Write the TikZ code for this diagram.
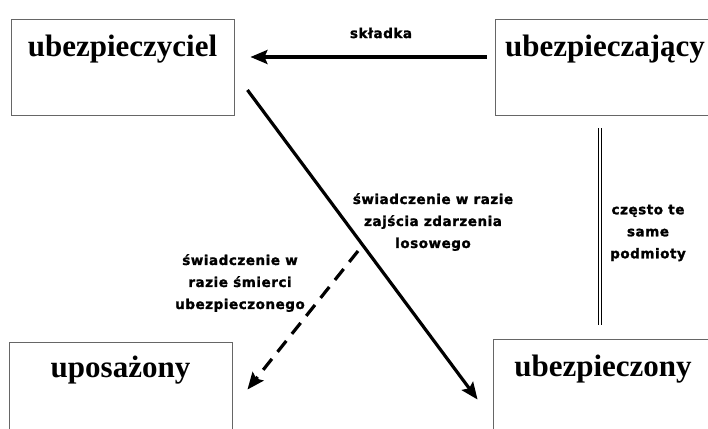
\documentclass[tikz,border=0pt]{standalone}
\usepackage{fontspec}
\setmainfont{Liberation Serif}
\newfontfamily\labelfont[BoldFeatures={FakeBold=1.6}, LetterSpace=4]{DejaVu Sans}
\usetikzlibrary{arrows.meta, positioning}

\begin{document}
\begin{tikzpicture}[x=1pt, y=-1pt,
  box/.style={draw=black!60, line width=0.9pt, minimum width=223pt, minimum height=96pt, inner sep=0pt},
  boxtext/.style={font=\bfseries\fontsize{31}{32}\selectfont, inner sep=0pt, anchor=base},
  note/.style={font=\labelfont\bfseries\fontsize{13.5}{22}\selectfont, align=center, inner sep=0pt},
  arr/.style={line width=3.2pt, -{Stealth[length=17pt, width=14pt, inset=3pt]}}]
  \useasboundingbox (0,0) rectangle (708,428);
  \clip (0,0) rectangle (708,428);
  % Boxes
  \node[box] (insurer) at (122.5,67) {};
  \node[box, minimum width=220pt] (policyholder) at (605,67) {};
  \node[box] (beneficiary) at (120.5,390) {};
  \node[box, minimum width=220pt] (insured) at (603,387) {};
  \node[boxtext] (insurertxt) at ([yshift=-38pt]insurer.north) {ubezpieczyciel};
  \node[boxtext] (policyholdertxt) at ([yshift=-38pt]policyholder.north) {ubezpieczający};
  \node[boxtext] (beneficiarytxt) at ([yshift=-36pt]beneficiary.north) {uposażony};
  \node[boxtext] (insuredtxt) at ([yshift=-38pt]insured.north) {ubezpieczony};
  % Labels
  \node[note] (premium) at (381,33) {składka};
  \node[note] (eventtxt) at (433,222) {świadczenie w razie\\zajścia zdarzenia\\losowego};
  \node[note] (deathtxt) at (240,283) {świadczenie w\\razie śmierci\\ubezpieczonego};
  \node[note] (sametxt) at (648,233) {często te\\same\\podmioty};
  \coordinate (deathstart) at (358,251);
  % Arrows
  \draw[arr] ([xshift=-8pt, yshift=10pt]policyholder.west) -- ([xshift=16pt, yshift=10pt]insurer.east);
  \draw[arr] ([xshift=13pt, yshift=-23pt]insurer.east) -- ([xshift=-15pt, yshift=-61pt]insured.north west);
  \draw[arr, dash pattern=on 14pt off 9pt] (deathstart) -- ([xshift=15pt, yshift=-48pt]beneficiary.north east);
  \draw[double, double distance=2.2pt, line width=0.9pt] ([xshift=-5pt, yshift=-13pt]policyholder.south) -- ([xshift=-3pt, yshift=14pt]insured.north);
\end{tikzpicture}
\end{document}
